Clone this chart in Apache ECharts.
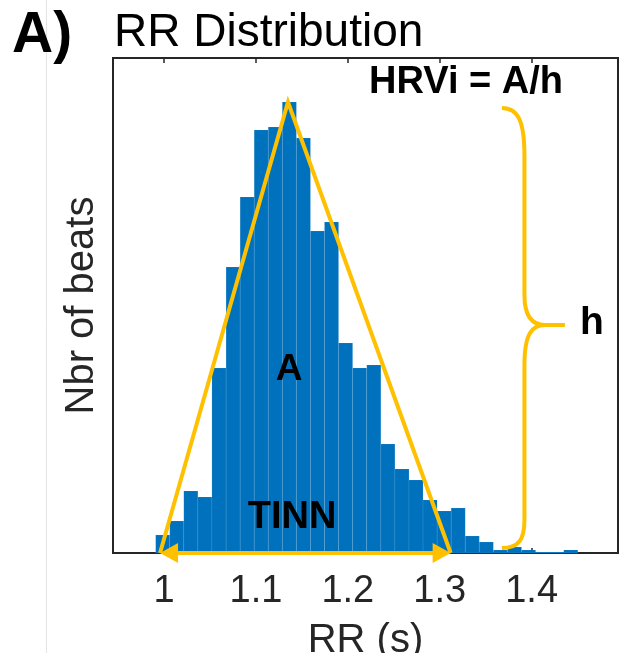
<!DOCTYPE html>
<html>
<head>
<meta charset="utf-8">
<title>RR Distribution</title>
<script src="https://cdn.jsdelivr.net/npm/echarts@6/dist/echarts.min.js"></script>
<style>
  html, body { margin: 0; padding: 0; background: #fff; }
  #rrChart { width: 627px; height: 653px; }
</style>
</head>
<body>
<div id="rrChart"></div>
<script>
// histogram bins (centre of each RR bin, seconds) and beat counts
var binCenters = [0.9986, 1.0139, 1.0292, 1.0445, 1.0598, 1.0752, 1.0905, 1.1058, 1.1211, 1.1364,
                  1.1517, 1.1670, 1.1823, 1.1976, 1.2129, 1.2283, 1.2436, 1.2589, 1.2742, 1.2895,
                  1.3048, 1.3201, 1.3354, 1.3507, 1.3660, 1.3814, 1.3967, 1.4120, 1.4273, 1.4426];
var beatCounts = [18, 32, 62, 56, 185, 286, 356, 423, 426, 451,
                  415, 322, 331, 210, 185, 188, 109, 84, 73, 53,
                  42, 45, 17, 11, 3, 6, 3, 1, 1, 3];
var binWidth = 0.0153;
var xTicks = [1, 1.1, 1.2, 1.3, 1.4];

// TINN triangle: left foot, apex, right foot
var tinnX = [0.9957, 1.1349, 1.3119];
var tinnY = [0, 451, 0];

// curly brace marking h: tip x, spine x, point x, end of pointer x / bottom, middle, top
var braceX = [1.3677, 1.3922, 1.4145, 1.4362];
var braceY = [5, 228, 445];

var yellow = '#FFC000';
var axisGray = '#262626';
var fontFam = '"Liberation Sans", Arial, Helvetica, sans-serif';

var chart = echarts.init(document.getElementById('rrChart'));

var option = {
  animation: false,
  grid: {
    left: 113, right: 9, top: 58, bottom: 100,
    outerBoundsMode: 'none',   // x name is cut at the bottom edge like the original, don't shrink the grid
    show: true,
    borderColor: axisGray,
    borderWidth: 2,
    backgroundColor: '#fff'
  },
  graphic: [
    // faint panel separator on the left
    { type: 'line', shape: { x1: 46.5, y1: 0, x2: 46.5, y2: 653 }, style: { stroke: '#e4e4e4', lineWidth: 1 }, z: 0 },
    { type: 'text', left: 12, top: 8, style: { text: 'A)', font: 'bold 57px ' + fontFam, fill: '#000' } },
    { type: 'text', x: 114, y: 33, style: { text: 'RR Distribution', font: '46px ' + fontFam, fill: '#000', textVerticalAlign: 'middle' } },
    { type: 'text', x: 466, y: 83, z: 10, style: { text: 'HRVi = A/h', font: 'bold 38px ' + fontFam, fill: '#000', textAlign: 'center', textVerticalAlign: 'middle' } },
    { type: 'text', x: 289, y: 370, z: 10, style: { text: 'A', font: 'bold 37px ' + fontFam, fill: '#000', textAlign: 'center', textVerticalAlign: 'middle' } },
    { type: 'text', x: 292, y: 518, z: 10, style: { text: 'TINN', font: 'bold 38px ' + fontFam, fill: '#000', textAlign: 'center', textVerticalAlign: 'middle' } },
    { type: 'text', x: 592, y: 323, z: 10, style: { text: 'h', font: 'bold 39px ' + fontFam, fill: '#000', textAlign: 'center', textVerticalAlign: 'middle' } }
  ],
  xAxis: [{
    type: 'value',
    min: 0.9445,
    max: 1.494,
    position: 'bottom',
    axisLine: { show: false },
    splitLine: { show: false },
    axisTick: { show: true, inside: true, length: 5, customValues: xTicks, lineStyle: { color: axisGray, width: 1.5 } },
    axisLabel: {
      customValues: xTicks,
      margin: 20,
      fontSize: 38,
      fontFamily: fontFam,
      color: axisGray,
      formatter: function (v) { return String(v); }
    },
    name: 'RR (s)',
    nameLocation: 'middle',
    nameGap: 68,
    nameTextStyle: { fontSize: 40, fontFamily: fontFam, color: axisGray }
  }, {
    type: 'value',
    min: 0.9445,
    max: 1.494,
    position: 'top',
    axisLine: { show: false },
    splitLine: { show: false },
    axisTick: { show: true, inside: true, length: 5, customValues: xTicks, lineStyle: { color: axisGray, width: 1.5 } },
    axisLabel: { show: false }
  }],
  yAxis: {
    type: 'value',
    min: 0,
    max: 495,
    axisLine: { show: false },
    axisTick: { show: false },
    axisLabel: { show: false },
    splitLine: { show: false },
    name: 'Nbr of beats',
    nameLocation: 'middle',
    nameGap: 11,
    nameTextStyle: { fontSize: 40, fontFamily: fontFam, color: axisGray }
  },
  series: [{
    name: 'RR histogram',
    type: 'custom',
    xAxisIndex: 0,
    z: 2,
    data: binCenters.map(function (c, i) { return [c, beatCounts[i]]; }),
    renderItem: function (params, api) {
      var c = api.value(0), v = api.value(1);
      var p0 = api.coord([c - binWidth / 2, v]);
      var p1 = api.coord([c + binWidth / 2, 0]);
      return {
        type: 'rect',
        shape: { x: p0[0], y: p0[1], width: p1[0] - p0[0], height: p1[1] - p0[1] },
        style: { fill: '#0072BD', stroke: 'rgba(255,255,255,0.12)', lineWidth: 0.6 }
      };
    }
  }, {
    name: 'TINN triangle',
    type: 'line',
    xAxisIndex: 0,
    z: 3,
    clip: false,
    symbol: 'none',
    data: tinnX.map(function (x, i) { return [x, tinnY[i]]; }),
    lineStyle: { color: yellow, width: 4, join: 'miter' }
  }, {
    name: 'TINN arrow',
    type: 'custom',
    xAxisIndex: 0,
    z: 4,
    clip: false,
    data: [[tinnX[0], tinnX[2]]],
    renderItem: function (params, api) {
      var a = api.coord([api.value(0), 0]);
      var b = api.coord([api.value(1), 0]);
      var y = a[1], hl = 18, hw = 10;
      return {
        type: 'group',
        children: [
          { type: 'line', shape: { x1: a[0] + hl - 2, y1: y, x2: b[0] - hl + 2, y2: y }, style: { stroke: yellow, lineWidth: 4 } },
          { type: 'polygon', shape: { points: [[a[0], y], [a[0] + hl, y - hw], [a[0] + hl, y + hw]] }, style: { fill: yellow } },
          { type: 'polygon', shape: { points: [[b[0], y], [b[0] - hl, y - hw], [b[0] - hl, y + hw]] }, style: { fill: yellow } }
        ]
      };
    }
  }, {
    name: 'h brace',
    type: 'custom',
    xAxisIndex: 0,
    z: 3,
    clip: false,
    data: [[braceX[0], braceY[1]]],
    renderItem: function (params, api) {
      var tipX = api.coord([braceX[0], 0])[0];
      var spX = api.coord([braceX[1], 0])[0];
      var ptX = api.coord([braceX[2], 0])[0];
      var endX = api.coord([braceX[3], 0])[0];
      var yB = api.coord([0, braceY[0]])[1];
      var yM = api.coord([0, braceY[1]])[1];
      var yT = api.coord([0, braceY[2]])[1];
      var d = 'M' + tipX + ',' + yT +
        ' C' + (spX - 6) + ',' + yT + ' ' + spX + ',' + (yT + 14) + ' ' + spX + ',' + (yT + 48) +
        ' L' + spX + ',' + (yM - 30) +
        ' C' + spX + ',' + (yM - 8) + ' ' + (spX + 8) + ',' + yM + ' ' + ptX + ',' + yM +
        ' L' + endX + ',' + yM +
        ' M' + ptX + ',' + yM +
        ' C' + (spX + 8) + ',' + yM + ' ' + spX + ',' + (yM + 8) + ' ' + spX + ',' + (yM + 40) +
        ' L' + spX + ',' + (yB - 28) +
        ' C' + spX + ',' + (yB - 8) + ' ' + (spX - 6) + ',' + yB + ' ' + tipX + ',' + yB;
      return {
        type: 'path',
        shape: { pathData: d },
        style: { fill: 'none', stroke: yellow, lineWidth: 4 }
      };
    }
  }]
};

chart.setOption(option);
</script>
</body>
</html>
